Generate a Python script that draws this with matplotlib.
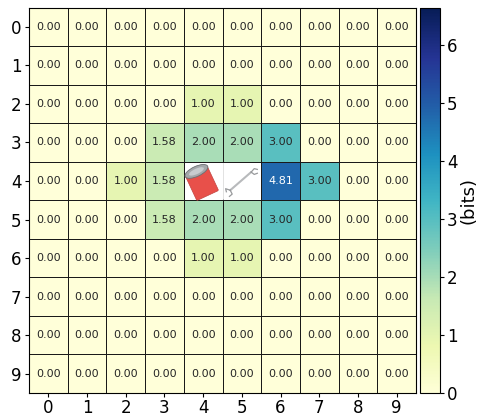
import matplotlib
matplotlib.use('Agg')
import matplotlib.pyplot as plt
import matplotlib.patches as patches
import matplotlib.transforms as transforms
import numpy as np

# information per cell, in bits; the two object cells are blank
row_0 = [0.00, 0.00, 0.00, 0.00, 0.00, 0.00, 0.00, 0.00, 0.00, 0.00]
row_1 = [0.00, 0.00, 0.00, 0.00, 0.00, 0.00, 0.00, 0.00, 0.00, 0.00]
row_2 = [0.00, 0.00, 0.00, 0.00, 1.00, 1.00, 0.00, 0.00, 0.00, 0.00]
row_3 = [0.00, 0.00, 0.00, 1.58, 2.00, 2.00, 3.00, 0.00, 0.00, 0.00]
row_4 = [0.00, 0.00, 1.00, 1.58, np.nan, np.nan, 4.81, 3.00, 0.00, 0.00]
row_5 = [0.00, 0.00, 0.00, 1.58, 2.00, 2.00, 3.00, 0.00, 0.00, 0.00]
row_6 = [0.00, 0.00, 0.00, 0.00, 1.00, 1.00, 0.00, 0.00, 0.00, 0.00]
row_7 = [0.00, 0.00, 0.00, 0.00, 0.00, 0.00, 0.00, 0.00, 0.00, 0.00]
row_8 = [0.00, 0.00, 0.00, 0.00, 0.00, 0.00, 0.00, 0.00, 0.00, 0.00]
row_9 = [0.00, 0.00, 0.00, 0.00, 0.00, 0.00, 0.00, 0.00, 0.00, 0.00]
tick_labels = ['0', '1', '2', '3', '4', '5', '6', '7', '8', '9']
cbar_ticks = [0, 1, 2, 3, 4, 5, 6]
vmax = 6.64

grid = np.array([row_0, row_1, row_2, row_3, row_4, row_5, row_6, row_7, row_8, row_9])

fig = plt.figure(figsize=(4.8, 4.19), dpi=100)
ax = fig.add_axes([29 / 480, 1 - 393 / 419, 387 / 480, 385.5 / 419])
cax = fig.add_axes([420 / 480, 1 - 393 / 419, 19.5 / 480, 385.5 / 419])

cmap = plt.get_cmap('YlGnBu').copy()
cmap.set_bad('white')
mesh = ax.pcolormesh(np.ma.masked_invalid(grid), cmap=cmap, vmin=0, vmax=vmax,
                     edgecolors='#1a1a1a', linewidth=0.7)
ax.set_xlim(0, 10)
ax.set_ylim(10, 0)
ax.set_xticks(np.arange(10) + 0.5)
ax.set_yticks(np.arange(10) + 0.5)
ax.set_xticklabels(tick_labels, fontsize=12)
ax.set_yticklabels(tick_labels, fontsize=12, rotation=0)
ax.tick_params(axis='x', length=3, pad=1.5)
ax.tick_params(axis='y', length=3, pad=2.5)

# cell labels
for i in range(10):
    for j in range(10):
        if np.isnan(grid[i, j]):
            continue
        color = 'white' if grid[i, j] > 4 else '#262626'
        ax.text(j + 0.5, i + 0.5, '%.2f' % grid[i, j], ha='center', va='center',
                fontsize=8, color=color)

# blank out the line between the two object cells
ax.add_patch(patches.Rectangle((4.02, 4.03), 1.96, 0.94, facecolor='white', edgecolor='none', zorder=3))
ax.plot([5, 5], [4.03, 4.97], color='#dddddd', linewidth=0.6, zorder=3)

# soda can icon
can_rot = transforms.Affine2D().rotate_deg_around(4.47, 4.56, -25) + ax.transData
ax.add_patch(patches.FancyBboxPatch((4.19, 4.24), 0.56, 0.64, boxstyle='round,pad=0.03',
                                    facecolor='#e8504a', edgecolor='#c24440', linewidth=0.5,
                                    transform=can_rot, zorder=4))
ax.add_patch(patches.Ellipse((4.47, 4.22), 0.64, 0.26, facecolor='#a4a8ab', edgecolor='#6b6f73',
                             linewidth=0.6, transform=can_rot, zorder=5))
ax.add_patch(patches.Ellipse((4.47, 4.22), 0.42, 0.14, facecolor='#c8cccf', edgecolor='none',
                             transform=can_rot, zorder=6))

# wrench icon
ax.plot([5.2, 5.74], [4.74, 4.27], color='#b8babc', linewidth=1.5, solid_capstyle='round', zorder=4)
ax.plot([5.74, 5.82, 5.9], [4.27, 4.18, 4.2], color='#989a9c', linewidth=0.9, zorder=5)
ax.plot([5.74, 5.82, 5.9], [4.27, 4.33, 4.3], color='#989a9c', linewidth=0.9, zorder=5)
ax.plot([5.2, 5.08, 5.1], [4.74, 4.7, 4.78], color='#989a9c', linewidth=0.9, zorder=5)
ax.plot([5.2, 5.25, 5.18], [4.74, 4.84, 4.9], color='#989a9c', linewidth=0.9, zorder=5)

cbar = fig.colorbar(mesh, cax=cax)
cbar.set_ticks(cbar_ticks)
cbar.ax.tick_params(labelsize=12, length=3, pad=2.5)
cbar.set_label('(bits)', fontsize=13, labelpad=1)
cbar.solids.set_edgecolor('face')

fig.savefig('out.png', dpi=100)
